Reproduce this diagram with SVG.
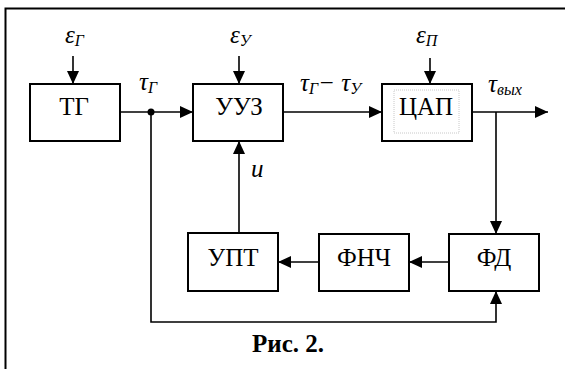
<svg xmlns="http://www.w3.org/2000/svg" width="565" height="369" viewBox="0 0 565 369">
<style>
.box{fill:#fff;stroke:#000;stroke-width:2}
.lbl{font-family:'Liberation Serif','Times New Roman',Times,Tinos,'Noto Serif','DejaVu Serif',FreeSerif,serif;font-size:25px;fill:#000;text-anchor:middle}
.mth{font-family:'Liberation Serif','Times New Roman',Times,Tinos,'Noto Serif','DejaVu Serif',FreeSerif,serif;font-size:25px;font-style:italic;fill:#000}
.sub{font-size:16px}
.ln{fill:none;stroke:#000;stroke-width:1.6}
.cap{font-family:'Liberation Serif','Times New Roman',Times,Tinos,'Noto Serif','DejaVu Serif',FreeSerif,serif;font-size:25px;font-weight:bold;fill:#000}
</style>
<defs>
<marker id="ah" markerUnits="userSpaceOnUse" markerWidth="13" markerHeight="12" refX="13" refY="6" orient="auto">
<path d="M0,0 L13,6 L0,12 Z" fill="#000"/>
</marker>
</defs>
<rect width="565" height="369" fill="#fff"/>
<path d="M5.5,369 V8.5 H565" fill="none" stroke="#000" stroke-width="2"/>
<g id="connectors">
<path class="ln" d="M73,56 V84" marker-end="url(#ah)"/>
<path class="ln" d="M239,56 V84" marker-end="url(#ah)"/>
<path class="ln" d="M430,58 V84" marker-end="url(#ah)"/>
<path class="ln" d="M120,112 H193" marker-end="url(#ah)"/>
<path class="ln" d="M283,112 H382" marker-end="url(#ah)"/>
<path class="ln" d="M472,112 H548" marker-end="url(#ah)"/>
<path class="ln" d="M496,112 V234" marker-end="url(#ah)"/>
<path class="ln" d="M449,262 H409" marker-end="url(#ah)"/>
<path class="ln" d="M319,262 H278" marker-end="url(#ah)"/>
<path class="ln" d="M239,233 V141" marker-end="url(#ah)"/>
<path class="ln" d="M151,112 V322 H496 V291" marker-end="url(#ah)"/>
<circle cx="151" cy="112" r="3.5" fill="#000"/>
</g>
<g id="TG"><rect class="box" x="30" y="84" width="90" height="57"/><text class="lbl" x="74" y="115">ТГ</text></g>
<g id="UUZ"><rect class="box" x="193" y="84" width="90" height="57"/><text class="lbl" x="239" y="115">УУЗ</text></g>
<g id="CAP"><rect class="box" x="382" y="84" width="90" height="57"/><rect x="394" y="90" width="65" height="43" fill="none" stroke="#c8c8c8" stroke-width="1" stroke-dasharray="1 1"/><text class="lbl" x="426" y="115">ЦАП</text></g>
<g id="UPT"><rect class="box" x="188" y="233" width="90" height="58"/><text class="lbl" x="233" y="266">УПТ</text></g>
<g id="FNCh"><rect class="box" x="319" y="234" width="90" height="57"/><text class="lbl" x="364" y="266">ФНЧ</text></g>
<g id="FD"><rect class="box" x="449" y="234" width="90" height="57"/><text class="lbl" x="494" y="266">ФД</text></g>
<g id="labels">
<text class="mth" x="65" y="43">ε<tspan class="sub" dy="3">Г</tspan></text>
<text class="mth" x="230" y="43">ε<tspan class="sub" dy="3">У</tspan></text>
<text class="mth" x="416" y="43">ε<tspan class="sub" dy="3">П</tspan></text>
<text class="mth" x="139" y="90">τ<tspan class="sub" dy="3">Г</tspan></text>
<text class="mth" x="300" y="91">τ<tspan class="sub" dy="3">Г</tspan><tspan dy="-3">− τ</tspan><tspan class="sub" dy="3">У</tspan></text>
<text class="mth" x="488" y="92">τ<tspan class="sub" dy="3">вых</tspan></text>
<text class="mth" x="251" y="177">u</text>
<text class="cap" x="252" y="352">Рис. 2.</text>
</g>
</svg>
